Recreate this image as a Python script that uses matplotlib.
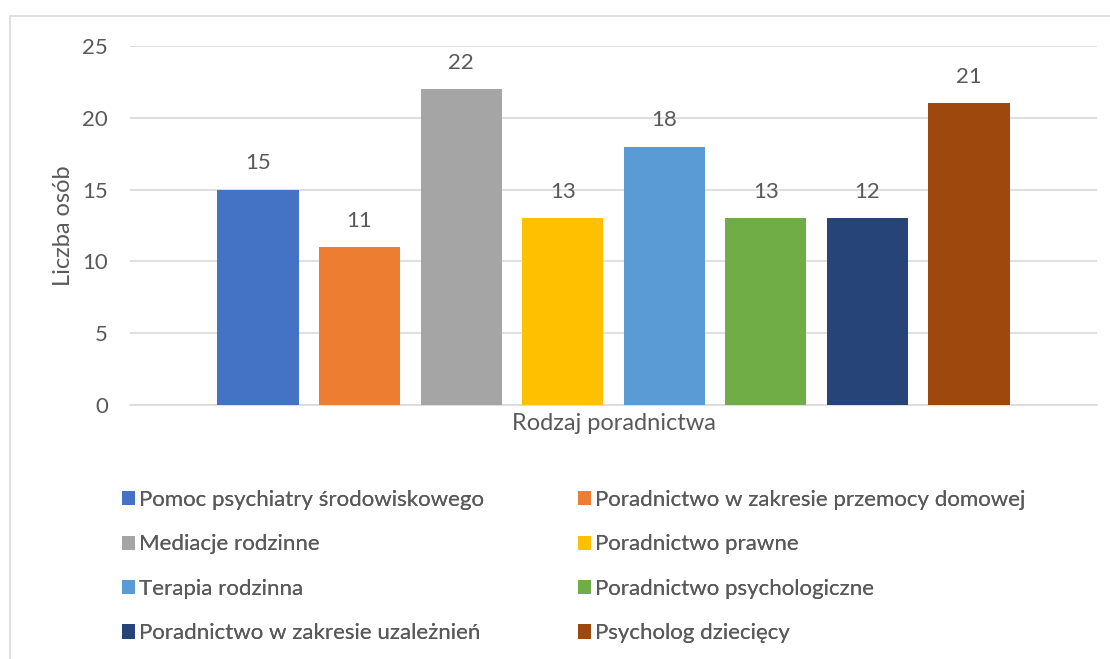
import matplotlib.pyplot as plt
from matplotlib.patches import Patch, Rectangle

# ====== dane ======
categories = ['Pomoc psychiatry środowiskowego',
              'Poradnictwo w zakresie przemocy domowej',
              'Mediacje rodzinne',
              'Poradnictwo prawne',
              'Terapia rodzinna',
              'Poradnictwo psychologiczne',
              'Poradnictwo w zakresie uzależnień',
              'Psycholog dziecięcy']
heights = [15, 11, 22, 13, 18, 13, 13, 21]   # wysokość słupków z rysunku
labels = ['15', '11', '22', '13', '18', '13', '12', '21']  # etykiety danych
colors = ['#4472C4', '#ED7D31', '#A5A5A5', '#FFC000',
          '#5B9BD5', '#70AD47', '#264478', '#9E480E']
yticks = [0, 5, 10, 15, 20, 25]

txt = '#595959'
fs = 16
plt.rcParams['font.family'] = ['Lato', 'DejaVu Sans']

fig = plt.figure(figsize=(11.10, 6.59), dpi=100)
ax = fig.add_axes([130 / 1110, 1 - 405 / 659, (1097 - 130) / 1110, (405 - 46) / 659])

x = range(len(heights))
bars = ax.bar(x, heights, width=0.8, color=colors, zorder=3)
for b, lab in zip(bars, labels):
    ax.annotate(lab, (b.get_x() + b.get_width() / 2, b.get_height()),
                xytext=(0, 19), textcoords='offset points',
                ha='center', va='center', fontsize=fs, color=txt)

ax.set_xlim(-1.26, 8.26)
ax.set_ylim(0, 25)
ax.set_yticks(yticks)
ax.set_xticks([])
ax.tick_params(axis='y', length=0, pad=16, labelsize=fs, labelcolor=txt)
ax.grid(axis='y', color='#D9D9D9', linewidth=1.2, zorder=0)
for s in ['top', 'right', 'left']:
    ax.spines[s].set_visible(False)
ax.spines['bottom'].set_color('#D9D9D9')
ax.spines['bottom'].set_linewidth(1.2)

ax.set_ylabel('Liczba osób', fontsize=fs + 1, color=txt)
ax.yaxis.set_label_coords(-0.058, 0.5)
ax.set_xlabel('Rodzaj poradnictwa', fontsize=fs + 1, color=txt, labelpad=6)

# ====== legenda (dwie kolumny) ======
handles = [Patch(facecolor=c) for c in colors]
for col, x0 in [(0, 102 / 1110), (1, 558 / 1110)]:
    idx = list(range(col, 8, 2))
    leg = fig.legend([handles[i] for i in idx], [categories[i] for i in idx],
                     loc='upper left', bbox_to_anchor=(x0, 1 - 470 / 659),
                     frameon=False, fontsize=fs, labelcolor=txt,
                     handlelength=0.6, handleheight=0.6, handletextpad=0.15,
                     labelspacing=1.1)
    fig.add_artist(leg)

# ramka wykresu
fig.add_artist(Rectangle((10 / 1110, -0.05), 1.2, 1 - 16 / 659 + 0.05,
                         transform=fig.transFigure, fill=False,
                         edgecolor='#D9D9D9', linewidth=1.2))

fig.savefig('out.png', dpi=100)
